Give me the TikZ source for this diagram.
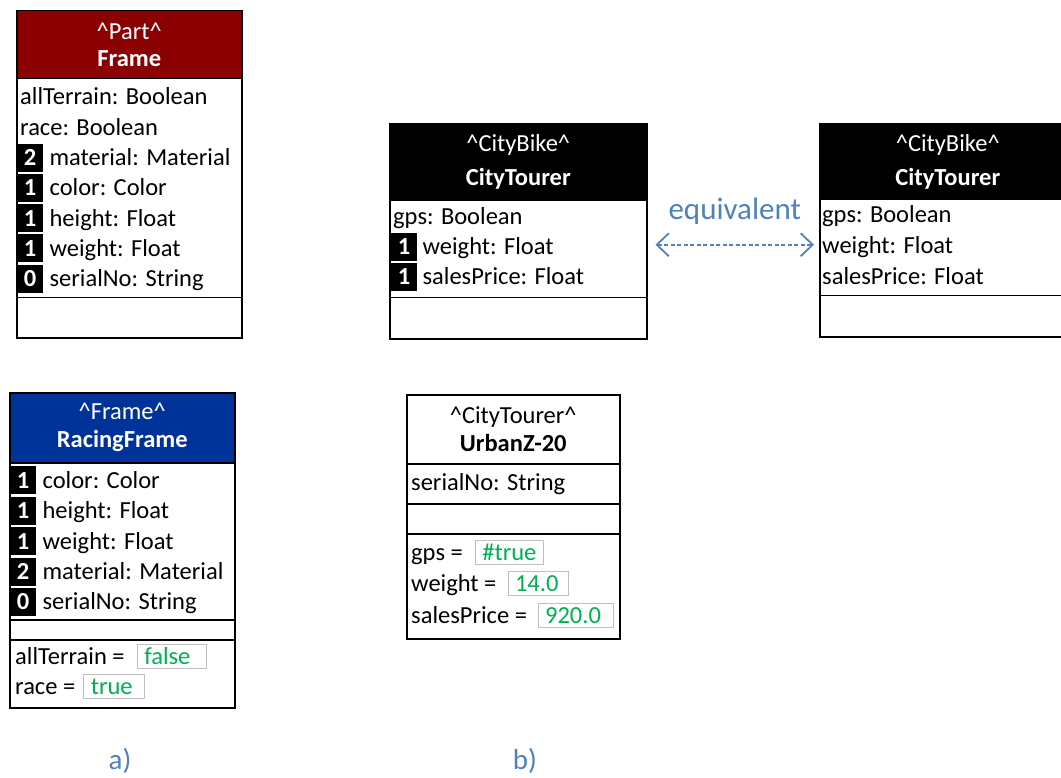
\documentclass[tikz,border=0pt]{standalone}
\usepackage{fontspec}
\setmainfont{Carlito}
\usetikzlibrary{positioning, arrows.meta}
\definecolor{framered}{RGB}{139,0,0}
\definecolor{racingblue}{RGB}{0,51,153}
\definecolor{eqblue}{RGB}{79,129,189}
\definecolor{valgreen}{RGB}{0,176,80}
\definecolor{valgray}{RGB}{191,191,191}
\tikzset{
	box/.style={draw, line width=1.5pt, anchor=north west, inner sep=0pt}, % one compartment of a class
	head/.style={box, align=center, text=white}, % stereotype + name compartment
	attr/.style={anchor=west, inner sep=0pt, text height=16pt, text depth=0pt}, % one attribute line
	badge/.style={anchor=west, fill=black, text=white, font=\fontsize{24.5}{28}\selectfont\bfseries,
		minimum width=26pt, minimum height=28pt, inner sep=0pt, text height=16pt, text depth=0pt}, % black number box
	valbox/.style={draw=valgray, line width=0.8pt, text=valgreen, align=left, inner xsep=7pt, inner ysep=0pt,
		minimum height=24pt, text height=16pt, text depth=0pt}, % green slot value
	equiv/.style={eqblue, line width=1.8pt, dash pattern=on 4pt off 2.5pt,
		{Straight Barb[length=12pt,width=23pt]}-{Straight Barb[length=12pt,width=23pt]}},
	sublabel/.style={text=eqblue, font=\fontsize{29}{34}\selectfont},
}

\begin{document}
\begin{tikzpicture}[x=1pt, y=-1pt, font=\fontsize{24.5}{28}\selectfont]
	\useasboundingbox (0,0) rectangle (1061,778);
	\clip (0,0) rectangle (1061,778);

	% a) Frame
	\node[head, fill=framered, minimum width=225pt, minimum height=68pt] (frameHead) at (16,10) {\textasciicircum Part\textasciicircum\\[-1.5pt]\textbf{Frame}};
	\node[box, minimum width=225pt, minimum height=219pt] (frameAttr) at (16,78) {};
	\node[box, minimum width=225pt, minimum height=40pt] (frameOps) at (16,297) {};
	\node[attr] (fAllTerrain) at (20,97) {allTerrain: Boolean};
	\node[attr] (fRace) at (20,127.3) {race: Boolean};
	\node[badge] (fbMaterial) at (17,157.6) {2};
	\node[attr, right=6pt of fbMaterial] (fMaterial) {material: Material};
	\node[badge] (fbColor) at (17,187.9) {1};
	\node[attr, right=6pt of fbColor] (fColor) {color: Color};
	\node[badge] (fbHeight) at (17,218.2) {1};
	\node[attr, right=6pt of fbHeight] (fHeight) {height: Float};
	\node[badge] (fbWeight) at (17,248.5) {1};
	\node[attr, right=6pt of fbWeight] (fWeight) {weight: Float};
	\node[badge] (fbSerial) at (17,278.8) {0};
	\node[attr, right=6pt of fbSerial] (fSerial) {serialNo: String};

	% a) RacingFrame
	\node[head, fill=racingblue, minimum width=225pt, minimum height=70pt] (rfHead) at (9,392) {\textasciicircum Frame\textasciicircum\\\textbf{RacingFrame}};
	\node[box, minimum width=225pt, minimum height=157pt] (rfAttr) at (9,462) {};
	\node[box, minimum width=225pt, minimum height=20pt] (rfOps) at (9,619) {};
	\node[box, minimum width=225pt, minimum height=68pt] (rfSlots) at (9,639) {};
	\node[badge] (rbColor) at (10,480.3) {1};
	\node[attr, right=6pt of rbColor] (rColor) {color: Color};
	\node[badge] (rbHeight) at (10,510.7) {1};
	\node[attr, right=6pt of rbHeight] (rHeight) {height: Float};
	\node[badge] (rbWeight) at (10,541.1) {1};
	\node[attr, right=6pt of rbWeight] (rWeight) {weight: Float};
	\node[badge] (rbMaterial) at (10,571.5) {2};
	\node[attr, right=6pt of rbMaterial] (rMaterial) {material: Material};
	\node[badge] (rbSerial) at (10,601.9) {0};
	\node[attr, right=6pt of rbSerial] (rSerial) {serialNo: String};
	\node[attr] (rAllTerrain) at (15,656) {allTerrain =};
	\node[valbox, text width=55pt, right=12pt of rAllTerrain] (rAllTerrainVal) {false};
	\node[attr] (rRace) at (15,686) {race =};
	\node[valbox, text width=47pt, right=8pt of rRace] (rRaceVal) {true};

	% b) CityTourer (left)
	\node[head, fill=black, minimum width=257pt, minimum height=77pt] (ctLeftHead) at (389,123) {\textasciicircum CityBike\textasciicircum\\[6pt]\textbf{CityTourer}};
	\node[box, minimum width=257pt, minimum height=97pt] (ctLeftAttr) at (389,200) {};
	\node[box, minimum width=257pt, minimum height=41pt] (ctLeftOps) at (389,297) {};
	\node[attr] (clGps) at (393,217) {gps: Boolean};
	\node[badge] (clbWeight) at (391,247) {1};
	\node[attr, right=5pt of clbWeight] (clWeight) {weight: Float};
	\node[badge] (clbPrice) at (391,277) {1};
	\node[attr, right=5pt of clbPrice] (clPrice) {salesPrice: Float};

	% b) CityTourer (right)
	\node[head, fill=black, minimum width=256pt, minimum height=76pt] (ctRightHead) at (819,123) {\textasciicircum CityBike\textasciicircum\\[6pt]\textbf{CityTourer}};
	\node[box, minimum width=256pt, minimum height=96pt] (ctRightAttr) at (819,199) {};
	\node[box, minimum width=256pt, minimum height=41pt] (ctRightOps) at (819,295) {};
	\node[attr] (crGps) at (822,215) {gps: Boolean};
	\node[attr] (crWeight) at (822,246) {weight: Float};
	\node[attr] (crPrice) at (822,277) {salesPrice: Float};

	\draw[equiv] ([xshift=8pt,yshift=4.5pt]ctLeftAttr.east) -- node[midway, yshift=34pt, text=eqblue, font=\fontsize{31}{36}\selectfont] (eqLabel) {equivalent} ([xshift=-5pt,yshift=3pt]ctRightAttr.west);

	% b) UrbanZ-20
	\node[head, text=black, fill=white, minimum width=213pt, minimum height=69pt] (uzHead) at (406,394) {\textasciicircum CityTourer\textasciicircum\\\textbf{UrbanZ-20}};
	\node[box, minimum width=213pt, minimum height=40pt] (uzAttr) at (406,463) {};
	\node[box, minimum width=213pt, minimum height=30pt] (uzOps) at (406,503) {};
	\node[box, minimum width=213pt, minimum height=105pt] (uzSlots) at (406,533) {};
	\node[attr] (uSerial) at (411,482) {serialNo: String};
	\node[attr] (uGps) at (411,552) {gps =};
	\node[valbox, text width=54pt, right=12pt of uGps] (uGpsVal) {\#true};
	\node[attr] (uWeight) at (411,583.7) {weight =};
	\node[valbox, text width=46pt, right=11pt of uWeight] (uWeightVal) {14.0};
	\node[attr] (uPrice) at (411,615.3) {salesPrice =};
	\node[valbox, text width=61pt, right=10.5pt of uPrice] (uPriceVal) {920.0};

	\node[sublabel] (labA) at (120,761) {a)};
	\node[sublabel] (labB) at (525,761) {b)};
\end{tikzpicture}
\end{document}
